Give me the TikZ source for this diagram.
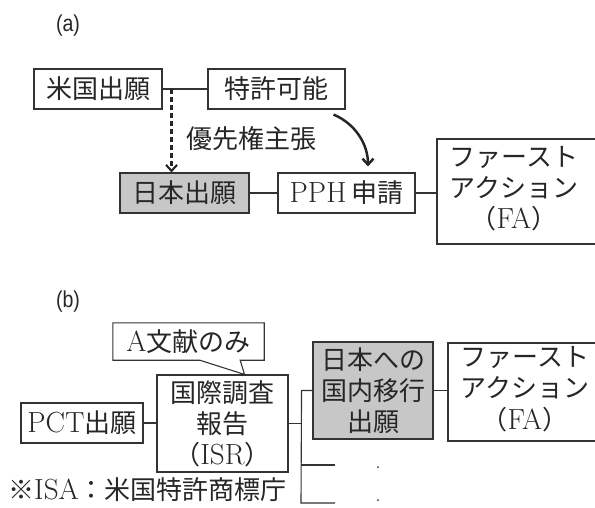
\documentclass[tikz,border=0pt]{standalone}
\usepackage{fontspec}
\setmainfont{Latin Modern Roman}[Scale=1.12]
\newfontfamily\jp{Noto Sans CJK JP}
\newfontfamily\lblfont{Liberation Sans}[FakeStretch=0.85]
\usetikzlibrary{arrows.meta,calc}
\begin{document}
\begin{tikzpicture}[x=1pt,y=-1pt,
  txt/.style={inner sep=0pt, font=\fontsize{26}{31}\selectfont, text=black!85},
  box/.style={txt, draw=black!80, line width=1.1pt},
  mbox/.style={box, align=center},
  shade/.style={fill=black!22},
  lbl/.style={inner sep=0pt, font=\lblfont\fontsize{23}{27}\selectfont, text=black!85},
  conn/.style={draw=black!80, line width=1.1pt},
  arr/.style={draw=black!85, line width=2.5pt, -{Straight Barb[length=6pt,width=11pt]}},
]
\useasboundingbox (0,0) rectangle (595,507);
% ---------- (a)
\node[lbl] (la) at (68,26) {(a)};
\node[box, minimum width=128pt, minimum height=40pt] (us) at (98,89) {\jp 米国出願};
\node[box, minimum width=137pt, minimum height=40pt] (tk) at (276.5,89) {\jp 特許可能};
\node[box, shade, minimum width=129pt, minimum height=40pt] (jp) at (184.5,193) {\jp 日本出願};
\node[box, minimum width=137pt, minimum height=40pt] (pph) at (346.5,193) {PPH\,{\jp 申請}};
\node[box, minimum width=170pt, minimum height=105pt] (fa1) at (522,191.5)
  {\begin{tabular}{@{}c@{}}{\jp ファースト}\\{\jp アクション}\\{\jp （}FA{\jp ）}\end{tabular}\rule{16pt}{0pt}};
\node[txt, anchor=west] (yu) at (186,139) {\jp 優先権主張};
\draw[conn] (us) -- (tk);
\draw[conn] (jp) -- (pph);
\draw[conn] (pph.east) -- (pph.east -| fa1.west);
\coordinate (d) at ($(us.east)!0.2!(tk.west)$);
\draw[arr, line width=2.1pt, dash pattern=on 5pt off 3pt] (d) -- (d |- jp.north);
\draw[arr] ($(tk.south east)+(-12,5)$) .. controls (356,124) and (368,145) .. ($(pph.north)+(21.5,-6)$);
% ---------- (b)
\node[lbl] (lb) at (68,302) {(b)};
\node[txt, minimum width=151pt, minimum height=37pt] (ac) at (188.5,341.5) {A{\jp 文献のみ}};
\node[box, minimum width=122pt, minimum height=40pt] (pct) at (82,423) {PCT{\jp 出願}};
\node[mbox, minimum width=131pt, minimum height=97pt] (isr) at (222.5,423.5)
  {{\jp 国際調査}\\{\jp 報告}\\{\jp （}ISR{\jp ）}};
\node[mbox, shade, minimum width=120pt, minimum height=97pt] (jpn2) at (373,390.5)
  {{\jp 日本への}\\{\jp 国内移行}\\{\jp 出願}};
\node[box, minimum width=170pt, minimum height=98pt] (fa2) at (533,392)
  {\begin{tabular}{@{}c@{}}{\jp ファースト}\\{\jp アクション}\\{\jp （}FA{\jp ）}\end{tabular}\rule{16pt}{0pt}};
\node[txt, anchor=west] (note) at (8,490) {{\jp ※}ISA{\jp ：米国特許商標庁}};
\coordinate (tip) at ($(isr.north)+(22,0)$);
\draw[conn] (ac.north west) -- (ac.north east) -- (ac.south east) -- ($(ac.south east)+(-24,0)$)
  -- (tip) -- ($(ac.south west)+(87,0)$) -- (ac.south west) -- cycle;
\draw[conn] (pct.east) -- (pct.east -| isr.west);
\coordinate (j) at ($(isr.east)+(13,0)$);
\coordinate (b2) at (301,465);
\coordinate (b3) at (301,503);
\coordinate (e2) at (335,465);
\coordinate (e3) at (335,503);
\draw[conn] (isr.east) -- (j);
\draw[conn] (jpn2.west) -- (jpn2.west -| j) -- (b3) -- (e3);
\draw[conn] (b2) -- (e2);
\draw[conn] (jpn2.east) -- (jpn2.east -| fa2.west);
\fill[black!80] (378,467) circle (1pt);
\fill[black!80] (378,500) circle (1pt);
\end{tikzpicture}
\end{document}
